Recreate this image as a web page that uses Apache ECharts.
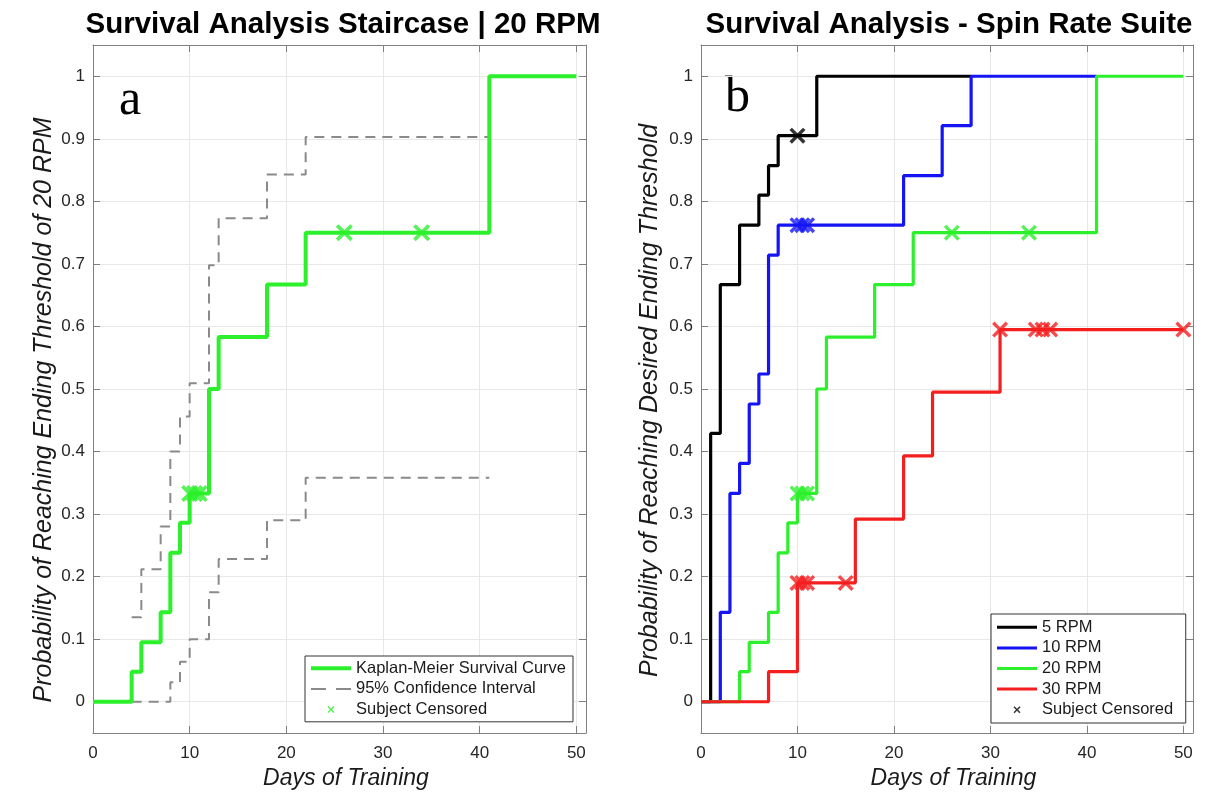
<!DOCTYPE html>
<html>
<head>
<meta charset="utf-8">
<title>Survival Analysis</title>
<script src="https://cdn.jsdelivr.net/npm/echarts@6/dist/echarts.min.js"></script>
<style>
  html, body { margin: 0; padding: 0; background: #fff; }
  #chart { width: 1208px; height: 794px; }
</style>
</head>
<body>
<div id="chart"></div>
<script>
// ---- data ----
var xTicks = [0, 10, 20, 30, 40, 50];
var yTicks = [0, 0.1, 0.2, 0.3, 0.4, 0.5, 0.6, 0.7, 0.8, 0.9, 1];

// 20 RPM Kaplan-Meier curve (panel a, also green in panel b)
var days20 = [0, 4, 5, 7, 8, 9, 10, 12, 13, 18, 22, 41, 50];
var prob20 = [0, 0.048, 0.095, 0.143, 0.238, 0.286, 0.333, 0.5, 0.583, 0.667, 0.75, 1, 1];
var cens20Days = [10, 10.5, 11, 26, 34];
var cens20Prob = [0.333, 0.333, 0.333, 0.75, 0.75];

// 95% confidence interval (panel a)
var ciDays = [4, 5, 7, 8, 9, 10, 12, 13, 18, 22, 41];
var ciUpper = [0.135, 0.212, 0.28, 0.40, 0.456, 0.509, 0.698, 0.773, 0.843, 0.903, 0.903];
var ciLower = [0, 0, 0, 0.031, 0.064, 0.10, 0.175, 0.228, 0.29, 0.358, 0.358];

// panel b
var days5 = [0, 1, 2, 4, 6, 7, 8, 12, 28];
var prob5 = [0, 0.429, 0.667, 0.762, 0.81, 0.857, 0.905, 1, 1];
var cens5Days = [10];
var cens5Prob = [0.905];

var days10 = [0, 2, 3, 4, 5, 6, 7, 8, 21, 25, 28, 41];
var prob10 = [0, 0.143, 0.333, 0.381, 0.476, 0.524, 0.714, 0.762, 0.841, 0.921, 1, 1];
var cens10Days = [10, 10.5, 11];
var cens10Prob = [0.762, 0.762, 0.762];

var days30 = [0, 7, 10, 16, 21, 24, 31, 50];
var prob30 = [0, 0.048, 0.19, 0.292, 0.393, 0.495, 0.595, 0.595];
var cens30Days = [10, 10.5, 11, 15, 31, 34.7, 35.4, 36.2, 50];
var cens30Prob = [0.19, 0.19, 0.19, 0.19, 0.595, 0.595, 0.595, 0.595, 0.595];

// ---- styles ----
var GREEN = '#2bf02b', BLUE = '#1414f5', RED = '#f51e1e', BLACK = '#000000', GRAY = '#8a8a8a';
var axisGray = '#808080';
var FONT = 'Liberation Sans';
var XMARK = 'path://M1.8,0L6,4.2L10.2,0L12,1.8L7.8,6L12,10.2L10.2,12L6,7.8L1.8,12L0,10.2L4.2,6L0,1.8Z';

function pairs(xs, ys) {
    return xs.map(function (x, i) { return [x, ys[i]]; });
}

function makeX(gridIndex, position, main) {
    return {
        type: 'value', gridIndex: gridIndex, position: position, min: 0, max: 51,
        name: main ? 'Days of Training' : '', nameLocation: 'middle', nameGap: 33,
        nameTextStyle: { fontFamily: FONT, fontStyle: 'italic', fontSize: 23, color: '#1a1a1a', padding: [0, 0, 0, 13] },
        axisLine: { show: true, onZero: false, lineStyle: { color: axisGray, width: 1 } },
        axisTick: { show: true, inside: true, length: 7, customValues: xTicks, lineStyle: { color: axisGray } },
        axisLabel: { show: main, customValues: xTicks, fontFamily: FONT, fontSize: 17, margin: 12, color: '#262626' },
        splitLine: { show: main, lineStyle: { color: '#e8e8e8', width: 1 } }
    };
}

function makeY(gridIndex, position, main, title, gap, shift) {
    return {
        type: 'value', gridIndex: gridIndex, position: position, min: -0.05, max: 1.05,
        name: title, nameLocation: 'middle', nameGap: gap,
        nameTextStyle: { fontFamily: FONT, fontStyle: 'italic', fontSize: 25, color: '#1a1a1a', padding: [0, shift, 0, 0] },
        axisLine: { show: true, onZero: false, lineStyle: { color: axisGray, width: 1 } },
        axisTick: { show: true, inside: true, length: 7, customValues: yTicks, lineStyle: { color: axisGray } },
        axisLabel: { show: main, customValues: yTicks, fontFamily: FONT, fontSize: 17, margin: 8, color: '#262626' },
        splitLine: { show: main, lineStyle: { color: '#e8e8e8', width: 1 } }
    };
}

function stepLine(name, xs, ys, color, width, axis, dashed) {
    return {
        name: name, type: 'line', step: 'end', symbol: 'none', xAxisIndex: axis, yAxisIndex: axis,
        data: pairs(xs, ys), color: color,
        lineStyle: { color: color, width: width, type: dashed ? [10, 7] : 'solid' },
        emphasis: { disabled: true }, animation: false
    };
}

function marks(name, xs, ys, color, size, axis) {
    return {
        name: name, type: 'scatter', xAxisIndex: axis, yAxisIndex: axis, z: 5,
        data: pairs(xs, ys), symbol: XMARK, symbolSize: size, color: color,
        itemStyle: { color: color }, emphasis: { disabled: true }, animation: false
    };
}

var legendText = { fontFamily: FONT, fontSize: 16.5, color: '#1a1a1a', lineHeight: 20.6 };

var option = {
    backgroundColor: '#fff',
    animation: false,
    title: [
        { text: 'Survival Analysis Staircase | 20 RPM', left: 338, top: 5, textAlign: 'center',
          textStyle: { fontFamily: FONT, fontWeight: 'bold', fontSize: 29.5, color: '#000' } },
        { text: 'Survival Analysis - Spin Rate Suite', left: 944, top: 5, textAlign: 'center',
          textStyle: { fontFamily: FONT, fontWeight: 'bold', fontSize: 29.5, color: '#000' } }
    ],
    grid: [
        { left: 93, top: 45, width: 493, height: 688, outerBoundsMode: 'none' },
        { left: 701, top: 45, width: 492, height: 688, outerBoundsMode: 'none' }
    ],
    xAxis: [makeX(0, 'bottom', true), makeX(1, 'bottom', true), makeX(0, 'top', false), makeX(1, 'top', false)],
    yAxis: [
        makeY(0, 'left', true, 'Probability of Reaching Ending Threshold of 20 RPM', 36, 42),
        makeY(1, 'left', true, 'Probability of Reaching Desired Ending Threshold', 38, 23),
        makeY(0, 'right', false, '', 0, 0),
        makeY(1, 'right', false, '', 0, 0)
    ],
    legend: [
        {
            orient: 'vertical', left: 305, top: 656, itemWidth: 40, itemHeight: 7, itemGap: 0,
            padding: [2, 7, 2, 6], borderColor: '#333', borderWidth: 1, backgroundColor: '#fff',
            selectedMode: false, textStyle: legendText, itemStyle: { borderWidth: 0 },
            data: [
                { name: 'Kaplan-Meier Survival Curve', icon: 'path://M0,0H40V4H0Z' },
                { name: '95% Confidence Interval', icon: 'path://M0,0H15V2H0Z M25,0H40V2H25Z' },
                'Subject Censored'
            ]
        },
        {
            orient: 'vertical', left: 991, top: 614, itemWidth: 40, itemHeight: 7, itemGap: 0,
            padding: [3, 8, 3, 6], borderColor: '#333', borderWidth: 1, backgroundColor: '#fff',
            selectedMode: false, textStyle: legendText, itemStyle: { borderWidth: 0 },
            data: [
                { name: '5 RPM', icon: 'path://M0,0H40V3H0Z' },
                { name: '10 RPM', icon: 'path://M0,0H40V3H0Z' },
                { name: '20 RPM', icon: 'path://M0,0H40V3H0Z' },
                { name: '30 RPM', icon: 'path://M0,0H40V3H0Z' },
                'Subject Censored '
            ]
        }
    ],
    graphic: [
        { type: 'text', left: 119, top: 76, style: { text: 'a', font: '50px "Liberation Serif"', fill: '#000' } },
        { type: 'text', left: 725, top: 73, style: { text: 'b', font: '50px "Liberation Serif"', fill: '#000' } }
    ],
    series: [
        // panel a
        stepLine('95% Confidence Interval', ciDays, ciUpper, GRAY, 2, 0, true),
        stepLine('95% Confidence Interval', ciDays, ciLower, GRAY, 2, 0, true),
        stepLine('Kaplan-Meier Survival Curve', days20, prob20, GREEN, 4, 0, false),
        marks('Subject Censored', cens20Days, cens20Prob, GREEN, 17, 0),
        // panel b
        stepLine('5 RPM', days5, prob5, BLACK, 3.2, 1, false),
        stepLine('10 RPM', days10, prob10, BLUE, 3.2, 1, false),
        stepLine('20 RPM', days20, prob20, GREEN, 3.2, 1, false),
        stepLine('30 RPM', days30, prob30, RED, 3.2, 1, false),
        marks('cens5', cens5Days, cens5Prob, BLACK, 16, 1),
        marks('cens10', cens10Days, cens10Prob, BLUE, 16, 1),
        marks('cens20', cens20Days, cens20Prob, GREEN, 16, 1),
        marks('cens30', cens30Days, cens30Prob, RED, 16, 1),
        marks('Subject Censored ', [], [], BLACK, 16, 1)
    ]
};

var chart = echarts.init(document.getElementById('chart'));
chart.setOption(option);
</script>
</body>
</html>
